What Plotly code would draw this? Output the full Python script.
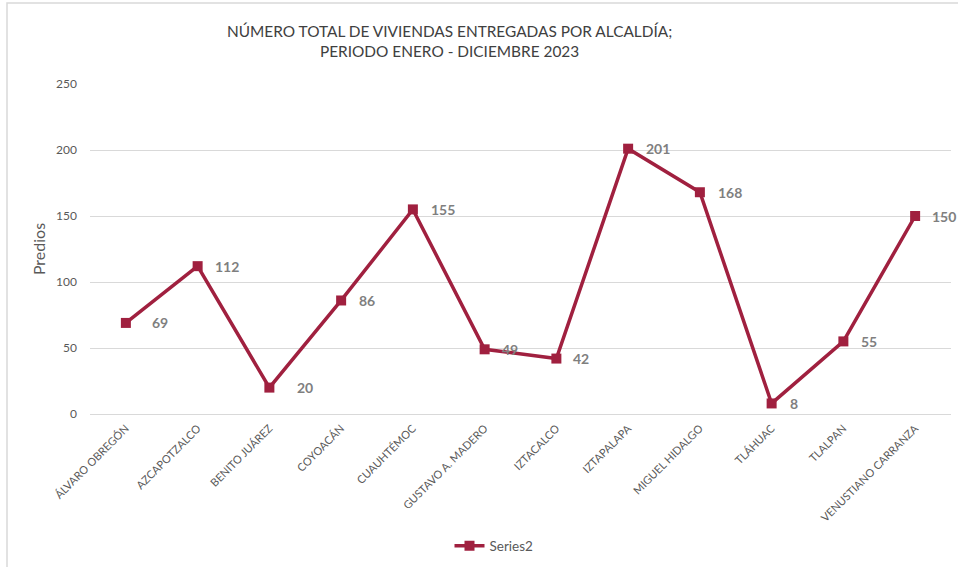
import plotly.graph_objects as go

categories = ["ÁLVARO OBREGÓN", "AZCAPOTZALCO", "BENITO JUÁREZ", "COYOACÁN", "CUAUHTÉMOC",
              "GUSTAVO A. MADERO", "IZTACALCO", "IZTAPALAPA", "MIGUEL HIDALGO", "TLÁHUAC",
              "TLALPAN", "VENUSTIANO CARRANZA"]
values = [69, 112, 20, 86, 155, 49, 42, 201, 168, 8, 55, 150]
series_name = "Series2"
y_ticks = [0, 50, 100, 150, 200, 250]

W, H = 958, 567
L, R, T, B = 90, 7, 84, 153
pw, ph = W - L - R, H - T - B
FONT = "Lato"
RED = "#A0203F"
GREY = "#595959"

def px_x(p):
    return (p - L) / pw

def px_y(p):
    return 1 - (p - T) / ph

fig = go.Figure()
fig.add_trace(go.Scatter(
    x=categories, y=values, mode="lines+markers", name=series_name,
    line=dict(color=RED, width=3.5),
    marker=dict(symbol="square", size=10, color=RED),
))

label_shift = [24, 15, 26, 16, 16, 15, 15, 16, 16, 16, 16, 15]
for c, v, s in zip(categories, values, label_shift):
    fig.add_annotation(x=c, y=v, text=str(v), showarrow=False, xanchor="left", yanchor="middle",
                       xshift=s, font=dict(family=FONT, size=14, color="#7F7F7F", weight="bold"))

fig.add_annotation(x=px_x(449), y=px_y(41), xref="paper", yref="paper",
                   text="NÚMERO TOTAL DE VIVIENDAS ENTREGADAS POR ALCALDÍA;<br>PERIODO ENERO - DICIEMBRE 2023",
                   showarrow=False, xanchor="center", yanchor="middle", align="center",
                   font=dict(family=FONT, size=15.4, color="#404040"))

fig.add_shape(type="rect", xref="paper", yref="paper",
              x0=px_x(7), x1=px_x(1200), y0=px_y(3), y1=px_y(900),
              line=dict(color="#D9D9D9", width=1.5), fillcolor="rgba(0,0,0,0)", layer="below")

fig.update_layout(
    width=W, height=H,
    margin=dict(l=L, r=R, t=T, b=B, autoexpand=False),
    paper_bgcolor="white", plot_bgcolor="white",
    font=dict(family=FONT, color=GREY),
    showlegend=True,
    legend=dict(orientation="h", x=px_x(494), xanchor="center", y=px_y(546), yanchor="middle",
                font=dict(family=FONT, size=13.5, color=GREY), itemwidth=30),
    xaxis=dict(type="category", range=[-0.5, len(categories) - 0.5], tickangle=-45,
               showgrid=False, showline=False, ticks="", zeroline=False, ticklabelstandoff=5,
               tickfont=dict(family=FONT, size=11, color=GREY)),
    yaxis=dict(range=[0, 250], tickvals=y_ticks, showgrid=True, gridcolor="#D9D9D9", gridwidth=1,
               zeroline=True, zerolinecolor="#D9D9D9", zerolinewidth=1, showline=False, ticks="",
               tickfont=dict(family=FONT, size=12, color=GREY), ticklabelstandoff=12,
               title=dict(text="Predios", font=dict(family=FONT, size=16, color=GREY), standoff=6)),
)

fig.write_html("out.html", config={"displayModeBar": False},
               post_script="document.body.style.margin='0';")
